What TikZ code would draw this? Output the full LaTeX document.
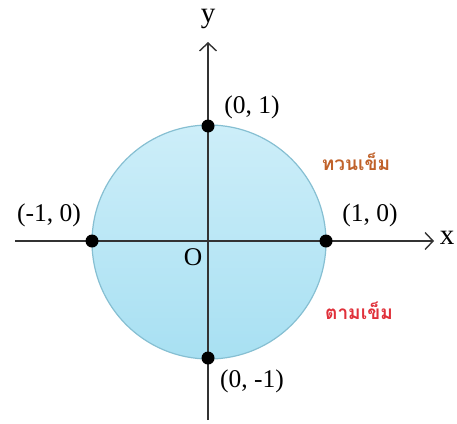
\documentclass[tikz,border=0pt]{standalone}
\usepackage{fontspec}
\setmainfont{Liberation Serif}
\newfontfamily\thaifont[Script=Thai]{Loma}
\usetikzlibrary{arrows.meta}
\definecolor{circfill}{HTML}{CDEEF9}
\definecolor{circfillb}{HTML}{A8E0F2}
\definecolor{circline}{HTML}{86BFD2}
\definecolor{ccw}{HTML}{C0622A}
\definecolor{cw}{HTML}{E0303A}
\definecolor{axis}{HTML}{333333}
\tikzset{
  axisline/.style={draw=axis, line width=1.6pt},
  dotpt/.style={circle, fill=black, inner sep=0pt, minimum size=13pt},
  lbl/.style={font=\fontsize{25.5}{29}\selectfont, inner sep=0pt},
  axlbl/.style={font=\fontsize{29}{32}\selectfont, inner sep=0pt},
  thlbl/.style={font=\thaifont\bfseries\fontsize{19}{22}\selectfont, inner sep=0pt},
}
\begin{document}
\begin{tikzpicture}[x=1pt,y=-1pt]
\useasboundingbox (0,0) rectangle (457,423);
\shade[top color=circfill, bottom color=circfillb] (209,242) circle (117);
\draw[circline, line width=1.2pt] (209,242) circle (117);
\coordinate (xs) at (15,241);
\coordinate (xe) at (434,241);
\coordinate (ys) at (208,420);
\coordinate (ye) at (208,42);
\draw[axisline, -{Straight Barb[length=8pt,width=17pt,line width=1.4pt]}] (xs) -- (xe);
\draw[axisline, -{Straight Barb[length=8pt,width=17pt,line width=1.4pt]}] (ys) -- (ye);
\node[dotpt] (p1) at (208,126) {};
\node[dotpt] (p2) at (326,241) {};
\node[dotpt] (p3) at (92,241) {};
\node[dotpt] (p4) at (208,358) {};
\node[axlbl] (ly) at (208,19) {y};
\node[axlbl] (lx) at (447,238) {x};
\node[lbl] (l1) at (252,107) {(0, 1)};
\node[lbl] (l2) at (370,215) {(1, 0)};
\node[lbl] (l3) at (49,215) {(-1, 0)};
\node[lbl] (l4) at (252,381) {(0, -1)};
\node[lbl] (lo) at (193,257) {O};
\node[thlbl, text=ccw] (t1) at (356,162) {ทวนเข็ม};
\node[thlbl, text=cw] (t2) at (359,311) {ตามเข็ม};
\end{tikzpicture}
\end{document}
